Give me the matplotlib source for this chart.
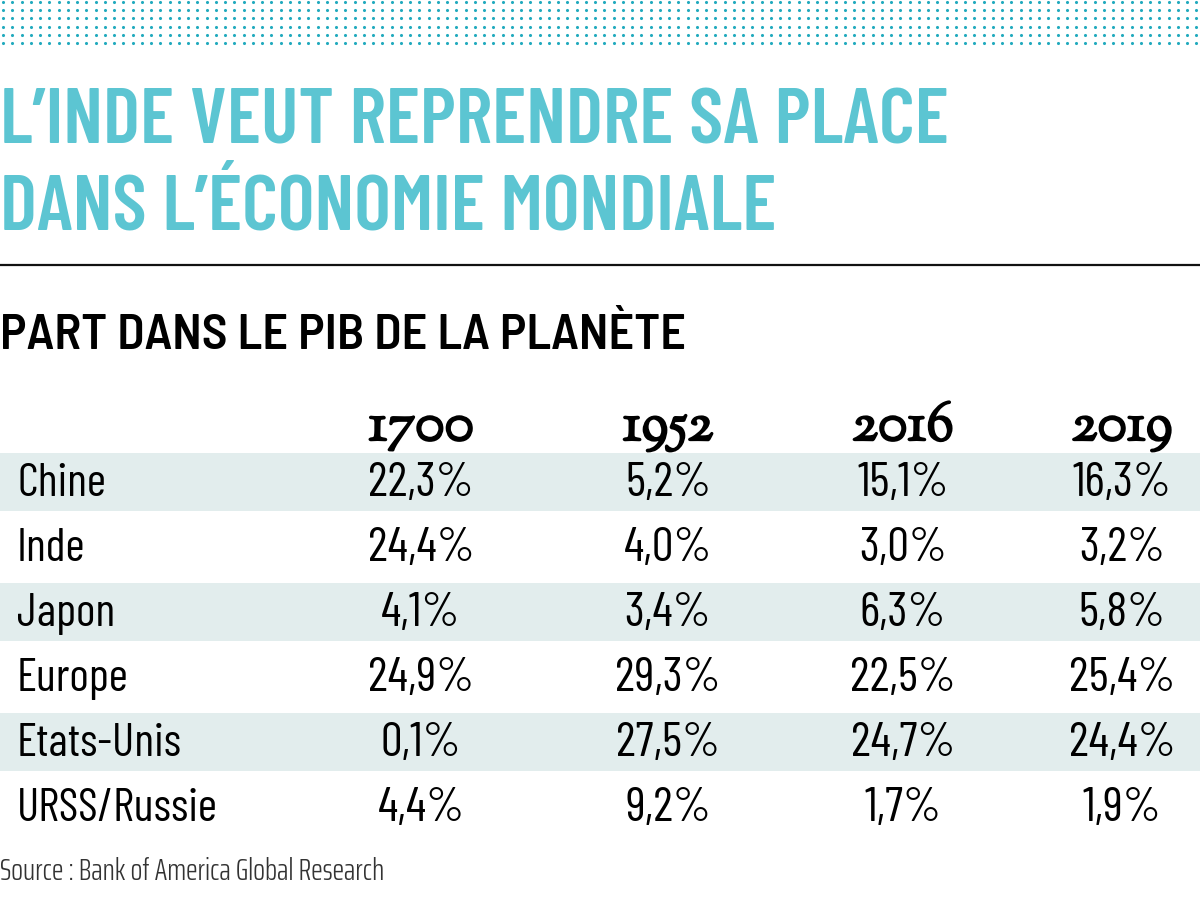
import numpy as np
import matplotlib
matplotlib.use("Agg")
from matplotlib import pyplot as plt
from matplotlib import patheffects as pe

title_lines = ["L\u2019INDE VEUT REPRENDRE SA PLACE", "DANS L\u2019\u00c9CONOMIE MONDIALE"]
subtitle = "PART DANS LE PIB DE LA PLAN\u00c8TE"
years = ["1700", "1952", "2016", "2019"]
countries = ["Chine", "Inde", "Japon", "Europe", "Etats-Unis", "URSS/Russie"]
values = [
    ["22,3%", "5,2%", "15,1%", "16,3%"],
    ["24,4%", "4,0%", "3,0%", "3,2%"],
    ["4,1%", "3,4%", "6,3%", "5,8%"],
    ["24,9%", "29,3%", "22,5%", "25,4%"],
    ["0,1%", "27,5%", "24,7%", "24,4%"],
    ["4,4%", "9,2%", "1,7%", "1,9%"],
]
source = "Source : Bank of America Global Research"

teal = "#5cc5d2"
dot_color = "#22aabe"
band = "#e2eded"
cond = ["Barlow Condensed", "DejaVu Sans"]

fig = plt.figure(figsize=(12, 9.02), dpi=100)
ax = fig.add_axes([0, 0, 1, 1])
ax.set_xlim(0, 1200)
ax.set_ylim(902, 0)
ax.axis("off")

# dotted strip at the top
dx, dy = np.meshgrid(np.arange(3, 1200, 9.25), np.arange(1.8, 46, 8.3))
ax.scatter(dx.ravel(), dy.ravel(), s=5, color=dot_color, linewidths=0)

for i, line in enumerate(title_lines):
    ax.text(0, 144 + i * 86, line, fontsize=56.5, fontweight=600,
            color=teal, family=cond, va="baseline")

ax.axhline(265, color="#111111", lw=1.6)
ax.text(0, 349, subtitle, fontsize=36.2, fontweight=600, color="black",
        family=["Barlow Semi Condensed", "DejaVu Sans"], va="baseline")

col_x = [421, 668, 903, 1122]
row_h = 65
for j, y in enumerate(years):
    ax.text(col_x[j], 440, y, fontsize=40, color="black",
            family=["Sorts Mill Goudy", "DejaVu Serif"], ha="center", va="baseline",
            path_effects=[pe.withStroke(linewidth=1.5, foreground="black")])

for i, c in enumerate(countries):
    base = 496 + i * row_h
    if i % 2 == 0:
        ax.axhspan(453 + i * row_h, 511 + i * row_h, color=band, zorder=0, lw=0)
    ax.text(17, base, c, fontsize=33.5, family=cond, va="baseline")
    for j, v in enumerate(values[i]):
        ax.text(col_x[j], base, v, fontsize=35, family=cond, ha="center", va="baseline")

ax.text(0, 880, source, fontsize=22.5, fontweight=300, color="#333333",
        family=["Saira ExtraCondensed", "DejaVu Sans"], va="baseline")

fig.savefig("out.png", dpi=100)
